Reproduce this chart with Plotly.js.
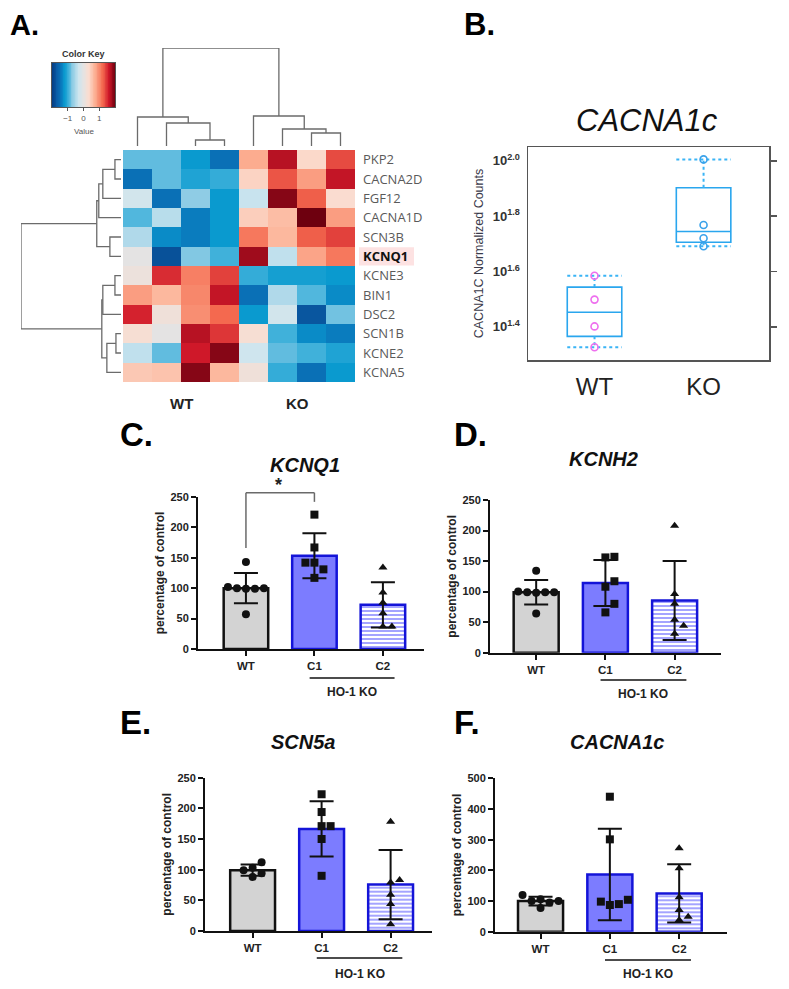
<!DOCTYPE html>
<html><head><meta charset="utf-8">
<script src="https://cdn.plot.ly/plotly-3.0.1.min.js"></script>
<style>html,body{margin:0;padding:0;background:#fff}#chart{width:789px;height:989px}</style>
</head><body><div id="chart"></div>
<script>
// ---------------- DATA ----------------
// Panel A: heatmap (row-scaled expression)
const heatRows = ['PKP2','CACNA2D','FGF12','CACNA1D','SCN3B','KCNQ1','KCNE3','BIN1','DSC2','SCN1B','KCNE2','KCNA5'];
const heatCols = ['WT-1','WT-2','WT-3','WT-4','KO-1','KO-2','KO-3','KO-4'];
const heatGroups = ['WT','KO'];
const heatZ = [
  [-0.85,-0.85,-1.2,-1.5, 0.75, 1.7, 0.35, 1.35],
  [-1.5,-0.85,-1.1,-1.0, 0.4, 1.3, 0.85, 1.65],
  [-0.25,-1.5,-0.7,-1.2,-0.35, 1.9, 1.25, 0.3],
  [-0.9,-0.45,-1.4,-1.2, 0.45, 0.6, 2.0, 0.85],
  [-0.5,-1.3,-1.4,-1.2, 1.1, 0.65, 1.25, 1.4],
  [-0.02,-1.8,-0.75,-0.95, 1.8,-0.4, 0.8, 1.1],
  [0.1, 1.5, 1.05, 1.4,-1.0,-1.15,-1.15,-1.2],
  [0.85, 0.65, 1.0, 1.65,-1.5,-0.5,-0.9,-1.3],
  [1.55, 0.15, 0.95, 1.2,-1.2,-0.25,-1.75,-0.8],
  [0.25,-0.02, 1.7, 1.45, 0.25,-0.95,-1.3,-1.4],
  [-0.4,-0.85, 1.6, 1.9,-0.3,-0.85,-0.95,-1.1],
  [0.5, 0.55, 1.9, 0.65, 0.15,-1.0,-1.5,-1.2]
];
// dendrogram merges: [childA, childB, height]; new node ids follow leaves
const colMerges = [[2,3,6],[1,8,23],[0,9,29],[6,7,13],[5,11,17],[4,12,30],[10,13,98]];
const rowMerges = [[0,1,6],[12,2,18],[13,3,22],[4,5,11],[14,15,24],[6,7,6],[17,8,18],[9,10,5],[19,11,14],[18,20,19],[16,21,99]];

// Panel B: CACNA1C normalized counts
const boxGroups = ['WT','KO'];
const boxWT = [38.4, 31.5, 25.2, 21.2];
const boxKO = [101.2, 58.6, 52.5, 49.1];

// Panels C-F: percentage of control
const qpcrGroups = ['WT','C1','C2'];
const kcnq1WT = [143, 102, 100, 100, 99, 99, 57];
const kcnq1C1 = [221, 167, 142, 142, 131, 117];
const kcnq1C2 = [134, 93, 76, 59, 37, 37];
const kcnh2WT = [134, 100, 99, 99, 98, 99, 64];
const kcnh2C1 = [157, 156, 117, 108, 80, 66];
const kcnh2C2 = [208, 96, 80, 54, 44, 31];
const scn5aWT = [112, 103, 99, 94, 88];
const scn5aC1 = [223, 194, 171, 171, 150, 90];
const scn5aC2 = [178, 83, 79, 59, 44, 11];
const cacnaWT = [100, 106, 120, 100, 77, 95];
const cacnaC1 = [440, 301, 98, 87, 104, 90];
const cacnaC2 = [272, 207, 112, 71, 49, 38];

// ---------------- HELPERS ----------------
const W = 789, H = 989;
const px = x => x / W, py = y => 1 - y / H;
const FONT = 'Liberation Sans, Arial, sans-serif';

function dendro(nLeaves, merges){
  const pos = [], ht = [], a = [], b = [];
  for (let i = 0; i < nLeaves; i++){ pos.push(i); ht.push(0); }
  merges.forEach(([i, j, h]) => {
    a.push(pos[i], pos[i], pos[j], pos[j], null);
    b.push(ht[i], h, h, ht[j], null);
    pos.push((pos[i] + pos[j]) / 2); ht.push(h);
  });
  return {p: a, h: b};
}
const mean = v => v.reduce((s, x) => s + x, 0) / v.length;
const sd = v => { const m = mean(v); return Math.sqrt(v.reduce((s, x) => s + (x - m) * (x - m), 0) / (v.length - 1)); };
function med(v){ const s = [...v].sort((a,b)=>a-b); const n = s.length; return n % 2 ? s[(n-1)/2] : (s[n/2-1] + s[n/2]) / 2; }
function quart(v){
  const s = [...v].sort((a,b)=>a-b); const n = s.length;
  const lo = s.slice(0, Math.floor(n/2)), hi = s.slice(Math.ceil(n/2));
  return {min: s[0], q1: med(lo), m: med(s), q3: med(hi), max: s[n-1]};
}

const cs = [[0,'#053a80'],[0.08,'#0a5ea8'],[0.14,'#0a76bb'],[0.2,'#0a9acf'],[0.26,'#3db0da'],[0.32,'#8ccbe4'],[0.42,'#cde5ef'],[0.5,'#e5e3e2'],[0.58,'#fbdccf'],[0.68,'#fcb093'],[0.8,'#f4694f'],[0.9,'#cf1829'],[1,'#6e000f']];

const traces = [];
const layout = {
  width: W, height: H, margin: {l:0, r:0, t:0, b:0},
  paper_bgcolor: '#fff', plot_bgcolor: 'rgba(0,0,0,0)',
  showlegend: false, hovermode: false,
  font: {family: FONT, color: '#222'},
  annotations: [], shapes: []
};
const hidden = {visible: false, showgrid: false, zeroline: false, showticklabels: false, ticks: '', showline: false, fixedrange: true};

// ---------------- PANEL A ----------------
const colIdx = heatCols.map((_, i) => i), rowIdx = heatRows.map((_, i) => i);
traces.push({type:'heatmap', x: colIdx, y: rowIdx, z: heatZ, colorscale: cs, zmin: -2, zmax: 2,
  showscale: false, xaxis: 'x', yaxis: 'y', hoverinfo: 'skip'});
layout.xaxis = Object.assign({}, hidden, {domain:[px(123), px(355)], range:[-0.5, 7.5], anchor:'y'});
const kIdx = heatRows.indexOf('KCNQ1');
layout.yaxis = {domain:[py(382), py(150)], range:[heatRows.length - 0.5, -0.5], anchor:'x', side:'right',
  showgrid:false, zeroline:false, showline:false, ticks:'', tickmode:'array', tickvals: rowIdx,
  ticktext: heatRows.map(r => r === 'KCNQ1' ? '<b><span style="color:#111">' + r + '</span></b>' : r),
  ticklabelstandoff: 7, tickfont:{family:'Open Sans, sans-serif', size:13, color:'#5a5a5a'}};
layout.shapes.push({type:'rect', xref:'paper', yref:'y', x0:px(359), x1:px(414), y0:kIdx-0.47, y1:kIdx+0.47,
  fillcolor:'#fde2e2', line:{width:0}, layer:'below'});
// group labels under heatmap
[1.5, 5.5].forEach((c, i) => layout.annotations.push({xref:'x', yref:'paper', x:c, y:py(403), text:'<b>'+heatGroups[i]+'</b>',
  showarrow:false, font:{size:15, color:'#222'}, xanchor:'center', yanchor:'middle'}));

// top dendrogram
const cd = dendro(heatCols.length, colMerges);
traces.push({type:'scatter', mode:'lines', x: cd.p, y: cd.h, xaxis:'x2', yaxis:'y2', line:{color:'#6b6b6b', width:1.3}, hoverinfo:'skip'});
layout.xaxis2 = Object.assign({}, hidden, {domain:[px(123), px(355)], range:[-0.5, 7.5], anchor:'y2'});
layout.yaxis2 = Object.assign({}, hidden, {domain:[py(146), py(48)], range:[0, 98], anchor:'x2'});
// left dendrogram
const rd = dendro(heatRows.length, rowMerges);
traces.push({type:'scatter', mode:'lines', x: rd.h, y: rd.p, xaxis:'x3', yaxis:'y3', line:{color:'#6b6b6b', width:1.3}, hoverinfo:'skip'});
layout.xaxis3 = Object.assign({}, hidden, {domain:[px(21), px(121)], range:[99, 0], anchor:'y3'});
layout.yaxis3 = Object.assign({}, hidden, {domain:[py(382), py(150)], range:[heatRows.length - 0.5, -0.5], anchor:'x3'});

// color key
const keyX = []; for (let v = -2; v <= 2.0001; v += 0.05) keyX.push(+v.toFixed(2));
traces.push({type:'heatmap', x: keyX, y:[0], z:[keyX], colorscale: cs, zmin:-2, zmax:2, showscale:false,
  xaxis:'x4', yaxis:'y4', hoverinfo:'skip'});
layout.xaxis4 = {domain:[px(52), px(115)], range:[-2, 2], anchor:'y4', showgrid:false, zeroline:false,
  showline:true, mirror:true, linecolor:'#555', linewidth:1, ticks:'outside', ticklen:3, tickcolor:'#555',
  tickvals:[-1,0,1], tickfont:{size:8, color:'#555'}};
layout.yaxis4 = {domain:[py(107), py(63)], range:[-0.5, 0.5], anchor:'x4', showgrid:false, zeroline:false,
  showline:true, mirror:true, linecolor:'#555', linewidth:1, showticklabels:false, ticks:''};
layout.annotations.push({xref:'paper', yref:'paper', x:px(83.5), y:py(54), text:'<b>Color Key</b>', showarrow:false,
  font:{size:9, color:'#333'}, xanchor:'center', yanchor:'middle'});
layout.annotations.push({xref:'paper', yref:'paper', x:px(83.5), y:py(131), text:'Value', showarrow:false,
  font:{size:8, color:'#555'}, xanchor:'center', yanchor:'middle'});

// ---------------- PANEL B ----------------
const boxSets = [boxWT, boxKO];
const stats = boxSets.map(quart);
const bx = boxGroups.map((_, i) => i);
const boxBlue = '#2aa6ee';
traces.push({type:'box', x: bx, q1: stats.map(s=>s.q1), median: stats.map(s=>s.m), q3: stats.map(s=>s.q3),
  lowerfence: stats.map(s=>s.q1), upperfence: stats.map(s=>s.q3), width: 0.5, whiskerwidth: 0,
  line:{color: boxBlue, width:1.6}, fillcolor:'rgba(0,0,0,0)', xaxis:'x5', yaxis:'y5', hoverinfo:'skip', boxpoints:false});
const wx = [], wy = [];
stats.forEach((s, i) => {
  wx.push(i, i, null, i, i, null, i-0.25, i+0.25, null, i-0.25, i+0.25, null);
  wy.push(s.q3, s.max, null, s.q1, s.min, null, s.max, s.max, null, s.min, s.min, null);
});
traces.push({type:'scatter', mode:'lines', x: wx, y: wy, xaxis:'x5', yaxis:'y5', line:{color:'#3ab4f5', width:2, dash:'dot'}, hoverinfo:'skip'});
const ptColors = ['#ee6fee', '#3aa2ea'];
boxSets.forEach((v, i) => traces.push({type:'scatter', mode:'markers', x: v.map(()=>i), y: v, xaxis:'x5', yaxis:'y5',
  marker:{symbol:'circle-open', size:7, color: ptColors[i], line:{width:1.6, color: ptColors[i]}}, hoverinfo:'skip', cliponaxis:false}));
traces.push({type:'scatter', mode:'markers', x:[0], y:[50], xaxis:'x5', yaxis:'y10', marker:{opacity:0}, hoverinfo:'skip'});
const bTicks = [1.4, 1.6, 1.8, 2.0];
layout.xaxis5 = {domain:[px(528), px(769)], range:[-0.61, 1.60], anchor:'y5', showgrid:false, zeroline:false,
  showline:true, mirror:true, linecolor:'#555', linewidth:1.5, ticks:'', tickvals: bx, ticktext: boxGroups,
  tickfont:{size:24, color:'#222'}, ticklabelstandoff: 5};
layout.yaxis5 = {domain:[py(360), py(147)], type:'log', range:[1.28, 2.05], anchor:'x5', showgrid:false, zeroline:false,
  showline:true, mirror:true, linecolor:'#555', linewidth:1.5, ticks:'', tickmode:'array',
  tickvals: bTicks.map(t => Math.pow(10, t)), ticktext: bTicks.map(t => '10<sup>' + t.toFixed(1) + '</sup>'),
  tickfont:{size:13, color:'#333', weight:'bold'}, ticklabelstandoff: 4,
  title:{text:'CACNA1C Normalized Counts', font:{size:12.5, color:'#3a3a4a'}, standoff: 6}};
layout.yaxis10 = {overlaying:'y5', side:'right', anchor:'x5', type:'log', range:[1.28, 2.05], showgrid:false, zeroline:false,
  showline:false, ticks:'outside', ticklen:7, tickwidth:1.5, tickcolor:'#555', tickmode:'array',
  tickvals: bTicks.map(t => Math.pow(10, t)), showticklabels:false};
layout.annotations.push({xref:'paper', yref:'paper', x:px(647), y:py(121), text:'<i>CACNA1c</i>', showarrow:false,
  font:{size:31, color:'#111'}, xanchor:'center', yanchor:'middle'});

// ---------------- PANELS C-F ----------------
const qpcr = [
  {lab:'C.', title:'KCNQ1', sets:[kcnq1WT,kcnq1C1,kcnq1C2], ax:6, x0:198, x1:424, yT:497, yB:649, xr:[-0.7,2.6], ymax:250, dtick:50, labX:118, labY:434, tX:305, tY:465, lineY:678, koY:692},
  {lab:'D.', title:'KCNH2', sets:[kcnh2WT,kcnh2C1,kcnh2C2], ax:7, x0:490, x1:721, yT:500, yB:652.7, xr:[-0.667,2.67], ymax:250, dtick:50, labX:452, labY:434, tX:603, tY:459, lineY:680, koY:694},
  {lab:'E.', title:'SCN5a', sets:[scn5aWT,scn5aC1,scn5aC2], ax:8, x0:205, x1:432, yT:777.7, yB:931, xr:[-0.69,2.6], ymax:250, dtick:50, labX:118, labY:722, tX:303, tY:742, lineY:958, koY:974},
  {lab:'F.', title:'CACNA1c', sets:[cacnaWT,cacnaC1,cacnaC2], ax:9, x0:495, x1:727, yT:778.3, yB:931.7, xr:[-0.657,2.69], ymax:500, dtick:100, labX:452, labY:722, tX:617, tY:742, lineY:960, koY:974}
];
const barFill = ['#d3d3d3', '#7c7cff', '#8c8cff'];
const barLine = ['#111111', '#1414d8', '#1414d8'];
const symbols = ['circle', 'square', 'triangle-up'];

function swarm(vals, center, pxX, pxY){
  const order = vals.map((v, i) => i).sort((a, b) => vals[a] - vals[b]);
  const placed = [], out = new Array(vals.length);
  const step = 9, minD = 8.6;
  order.forEach(i => {
    const yp = vals[i] * pxY;
    for (let k = 0; k < 20; k++){
      const off = (k === 0 ? 0 : (k % 2 ? 1 : -1) * Math.ceil(k / 2)) * step;
      if (placed.every(p => Math.hypot(p[0] - off, p[1] - yp) >= minD)){
        placed.push([off, yp]); out[i] = center + off / pxX; break;
      }
    }
  });
  return out;
}

qpcr.forEach(p => {
  const xa = 'x' + p.ax, ya = 'y' + p.ax;
  const pxX = (p.x1 - p.x0) / (p.xr[1] - p.xr[0]);
  const pxY = (p.yB - p.yT) / p.ymax;
  const v2p = v => py(p.yB - v * pxY);
  const gx = qpcrGroups.map((_, i) => i);
  traces.push({type:'bar', x: gx, y: p.sets.map(mean), width: 0.65, xaxis: xa, yaxis: ya, hoverinfo:'skip',
    error_y:{type:'data', array: p.sets.map(sd), visible:true, color:'#111', thickness:2, width:12},
    marker:{color: barFill, line:{color: barLine, width:2.5},
      pattern:{shape:['', '', '-'], fillmode:'replace', fgcolor:'#d4d4ff', bgcolor:'#8585ff', size:4, solidity:0.4}}});
  p.sets.forEach((v, i) => traces.push({type:'scatter', mode:'markers', x: swarm(v, i, pxX, pxY), y: v,
    xaxis: xa, yaxis: ya, hoverinfo:'skip', cliponaxis:false,
    marker:{symbol: symbols[i], size: 8, color:'#111', line:{width:0}}}));
  const tv = []; for (let t = 0; t <= p.ymax; t += p.dtick) tv.push(t);
  layout['xaxis' + p.ax] = {domain:[px(p.x0), px(p.x1)], range: p.xr, anchor: ya, showgrid:false, zeroline:false,
    showline:true, linecolor:'#111', linewidth:2, ticks:'outside', ticklen:5, tickwidth:2, tickcolor:'#111',
    tickvals: gx, ticktext: qpcrGroups, tickfont:{size:11.5, color:'#222', weight:'bold'}};
  layout['yaxis' + p.ax] = {domain:[py(p.yB), py(p.yT)], range:[0, p.ymax], anchor: xa, showgrid:false, zeroline:false,
    showline:true, linecolor:'#111', linewidth:2, ticks:'outside', ticklen:5, tickwidth:2, tickcolor:'#111',
    tickvals: tv, tickfont:{size:11, color:'#222', weight:'bold'},
    title:{text:'percentage of control', font:{size:12, color:'#222', weight:'bold'}, standoff:3}};
  layout.annotations.push({xref:'paper', yref:'paper', x:px(p.tX), y:py(p.tY), text:'<b><i>' + p.title + '</i></b>',
    showarrow:false, font:{size:20, color:'#111'}, xanchor:'center', yanchor:'middle'});
  layout.annotations.push({xref:'paper', yref:'paper', x:px(p.labX), y:py(p.labY), text:'<b>' + p.lab + '</b>',
    showarrow:false, font:{size:33, color:'#000'}, xanchor:'left', yanchor:'middle'});
  layout.shapes.push({type:'line', xref: xa, yref:'paper', x0:0.93, x1:2.17, y0:py(p.lineY), y1:py(p.lineY), line:{color:'#111', width:1.5}});
  layout.annotations.push({xref: xa, yref:'paper', x:1.55, y:py(p.koY), text:'<b>HO-1 KO</b>', showarrow:false,
    font:{size:12, color:'#222'}, xanchor:'center', yanchor:'middle'});
  if (p.lab === 'C.'){
    const br = {c:'#6a6a6a', w:1.5};
    [[0,0,166,257],[0,1,257,257],[1,1,257,242]].forEach(s => layout.shapes.push({type:'line', xref: xa, yref:'paper',
      x0:s[0], x1:s[1], y0:v2p(s[2]), y1:v2p(s[3]), line:{color: br.c, width: br.w}}));
    layout.annotations.push({xref: xa, yref:'paper', x:0.47, y:v2p(270), text:'<b>*</b>', showarrow:false,
      font:{size:18, color:'#222'}, xanchor:'center', yanchor:'middle'});
  }
});

// panel letters A, B
layout.annotations.push({xref:'paper', yref:'paper', x:px(8), y:py(25), text:'<b>A.</b>', showarrow:false,
  font:{size:29, color:'#000'}, xanchor:'left', yanchor:'middle'});
layout.annotations.push({xref:'paper', yref:'paper', x:px(462), y:py(24), text:'<b>B.</b>', showarrow:false,
  font:{size:31, color:'#000'}, xanchor:'left', yanchor:'middle'});

Plotly.newPlot('chart', traces, layout, {staticPlot:true, displayModeBar:false});
</script></body></html>
